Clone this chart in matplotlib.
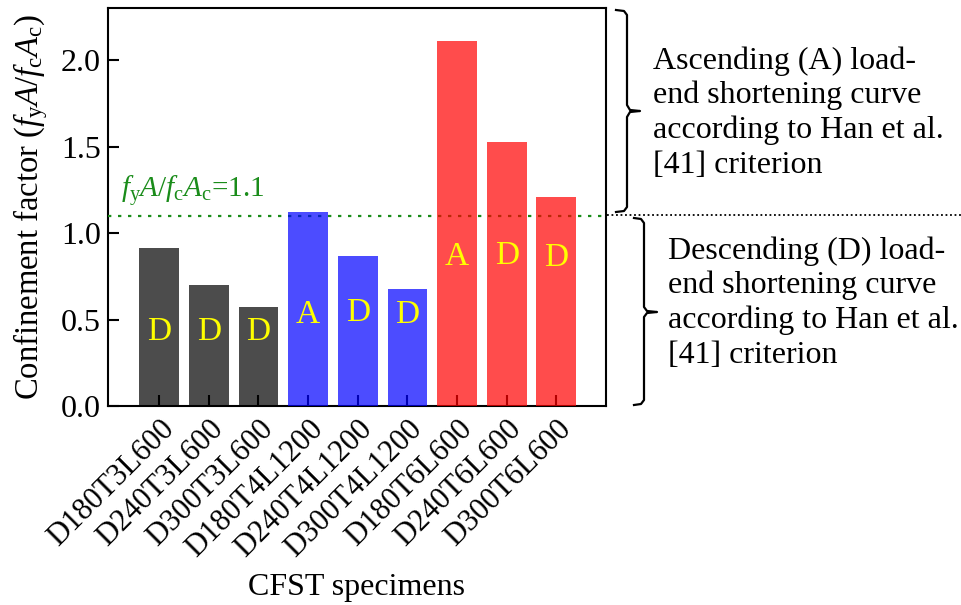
import matplotlib
matplotlib.use("Agg")
import matplotlib.pyplot as plt
from matplotlib.lines import Line2D

plt.rcParams['font.family'] = ['Liberation Serif', 'DejaVu Serif']
plt.rcParams['mathtext.fontset'] = 'custom'
plt.rcParams['mathtext.rm'] = 'Liberation Serif'
plt.rcParams['mathtext.it'] = 'Liberation Serif:italic'
plt.rcParams['mathtext.bf'] = 'Liberation Serif:bold'

specimens = ["D180T3L600", "D240T3L600", "D300T3L600",
             "D180T4L1200", "D240T4L1200", "D300T4L1200",
             "D180T6L600", "D240T6L600", "D300T6L600"]
confinement = [0.914, 0.70, 0.573, 1.123, 0.866, 0.677, 2.112, 1.528, 1.21]
curve_type = ["D", "D", "D", "A", "D", "D", "A", "D", "D"]
label_y = [0.43, 0.43, 0.43, 0.53, 0.54, 0.53, 0.865, 0.87, 0.86]
group_colors = ["black"] * 3 + ["blue"] * 3 + ["red"] * 3
threshold = 1.1

W, H = 962, 605
fig = plt.figure(figsize=(W / 100, H / 100), dpi=100)
ax = fig.add_axes([108 / W, 1 - 406 / H, (606 - 108) / W, (406 - 8) / H])

x = list(range(len(specimens)))
ax.bar(x, confinement, width=0.8, color=group_colors, alpha=0.7, zorder=3)
for xi, t, ly in zip(x, curve_type, label_y):
    ax.text(xi, ly, t, color="#ffff00", fontsize=24, ha="center", va="center", zorder=4)

ax.axhline(threshold, color="#1a8c1a", linestyle=(0, (1.5, 3)), linewidth=1.6, zorder=2)
ax.text(-0.77, 1.14, r"$f_\mathrm{y}A/f_\mathrm{c}A_\mathrm{c}$=1.1", color="#1a8c1a",
        fontsize=21, ha="left", va="bottom")

ax.set_xlim(-1.03, 9.0)
ax.set_ylim(0, 2.303)
ax.set_yticks([0.0, 0.5, 1.0, 1.5, 2.0])
ax.set_yticklabels(["0.0", "0.5", "1.0", "1.5", "2.0"])
ax.set_xticks(x)
ax.set_xticklabels(specimens, rotation=45, ha="right", rotation_mode="anchor")
ax.tick_params(axis="both", direction="in", length=8, width=1.5)
ax.tick_params(axis="y", right=False, labelsize=23, pad=5)
ax.tick_params(axis="x", labelsize=22, pad=6)
for s in ax.spines.values():
    s.set_linewidth(1.5)
    s.set_zorder(1)

ax.set_ylabel(r"Confinement factor ($f_\mathrm{y}A/f_\mathrm{c}A_\mathrm{c}$)", fontsize=23.5, labelpad=8)
ax.set_xlabel("CFST specimens", fontsize=23, labelpad=7)

def fig_line(pts, **kw):
    xs = [p[0] / W for p in pts]
    ys = [1 - p[1] / H for p in pts]
    fig.add_artist(Line2D(xs, ys, transform=fig.transFigure, **kw))

# black dotted continuation of the threshold line
fig_line([(607, 215), (962, 215)], color="black", linestyle=(0, (1, 1.5)), linewidth=1.3)

# upper bracket
fig_line([(616, 10), (624, 11), (627, 15), (627, 105), (630, 110), (640, 111),
          (630, 112), (627, 117), (627, 207), (624, 211), (616, 212)],
         color="black", linewidth=1.6)
# lower bracket
fig_line([(634, 218), (641, 219), (644, 223), (644, 307), (647, 311), (657, 312),
          (647, 313), (644, 317), (644, 400), (641, 404), (634, 405)],
         color="black", linewidth=1.6)

fig.text(653 / W, 1 - 46 / H,
         "Ascending (A) load-\nend shortening curve\naccording to Han et al.\n[41] criterion",
         fontsize=23, ha="left", va="top", linespacing=1.24)
fig.text(668 / W, 1 - 236 / H,
         "Descending (D) load-\nend shortening curve\naccording to Han et al.\n[41] criterion",
         fontsize=23, ha="left", va="top", linespacing=1.24)

fig.savefig("out.png", dpi=100)
